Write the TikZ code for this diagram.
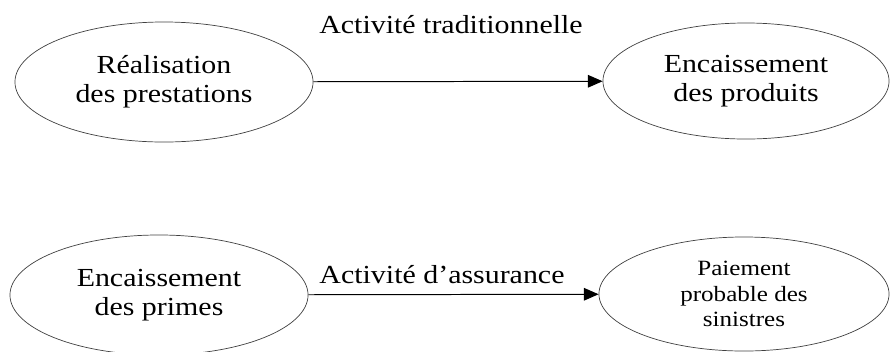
\documentclass[tikz,border=0pt]{standalone}
\usepackage{fontspec}
\setmainfont{Liberation Serif}[FakeStretch=1.15]
\usetikzlibrary{shapes.geometric,arrows.meta}

\begin{document}
\begin{tikzpicture}[x=0.025cm, y=-0.025cm,
  etape/.style={draw=black!75, ellipse, line width=0.5pt, align=center, font=\fontsize{18.5}{20.4}\selectfont},
  fleche/.style={-{Triangle[length=10.5pt,width=9pt]}, line width=0.7pt}]
\useasboundingbox (0,0) rectangle (890,351);

\node (real) [etape, minimum width=7.45cm, minimum height=3cm] at (164,82) {Réalisation\\des prestations};
\node (prod) [etape, minimum width=7.15cm, minimum height=2.9cm] at (746,81) {Encaissement\\des produits};
\node (prim) [etape, minimum width=7.45cm, minimum height=3cm] at (159,295) {Encaissement\\des primes};
\node (sin) [etape, minimum width=7.25cm, minimum height=2.85cm, font=\fontsize{15.5}{18.3}\selectfont] at (744,294) {Paiement\\probable des\\sinistres};

\draw [fleche] (real) -- (prod);
\draw [fleche] (prim) -- (sin);

\node (trad) [anchor=base, font=\fontsize{18.5}{20.4}\selectfont] at (451,33) {Activité traditionnelle};
\node (assu) [anchor=base, font=\fontsize{18.5}{20.4}\selectfont] at (442,283) {Activité d’assurance};
\end{tikzpicture}
\end{document}
